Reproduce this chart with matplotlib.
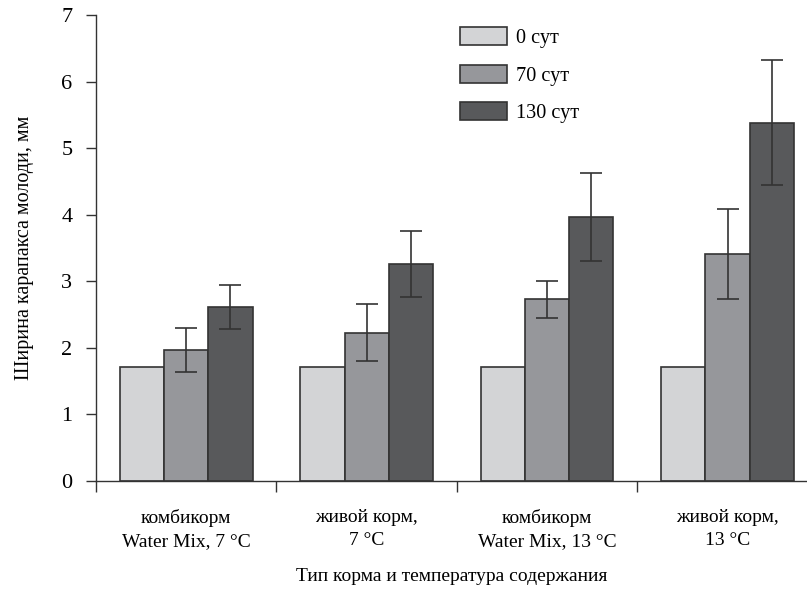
import numpy as np
import matplotlib.pyplot as plt
from matplotlib.ticker import FixedLocator

plt.rcParams['font.family'] = ['Liberation Serif', 'DejaVu Serif']

# data
groups = ['комбикорм\nWater Mix, 7 °C', 'живой корм,\n7 °C',
          'комбикорм\nWater Mix, 13 °C', 'живой корм,\n13 °C']
series = ['0 сут', '70 сут', '130 сут']
day0 = [1.71, 1.71, 1.71, 1.71]
day70 = [1.97, 2.23, 2.73, 3.41]
day130 = [2.62, 3.26, 3.96, 5.38]
err0 = [0, 0, 0, 0]
err70 = [0.33, 0.43, 0.28, 0.68]
err130 = [0.33, 0.50, 0.66, 0.94]

colors = ['#d3d4d6', '#96979b', '#58595b']
edge = '#333333'

fig = plt.figure(figsize=(8.07, 5.89), dpi=100)
ax = fig.add_axes([0.119, 0.1834, 0.881, 0.7911])

x = np.arange(len(groups)) + 0.5
w = 0.245
vals = [day0, day70, day130]
errs = [err0, err70, err130]
for i in range(3):
    pos = x + (i - 1) * w
    ax.bar(pos, vals[i], w, color=colors[i], edgecolor=edge, linewidth=1.2,
           label=series[i], zorder=2)
    if i > 0:
        ax.errorbar(pos, vals[i], yerr=errs[i], fmt='none', ecolor=edge,
                    elinewidth=1.2, capsize=8, capthick=1.2, zorder=3)

ax.set_xlim(0, 3.94)
ax.set_ylim(0, 7)
ax.spines['top'].set_visible(False)
ax.spines['right'].set_visible(False)
for s in ['left', 'bottom']:
    ax.spines[s].set_color(edge)
    ax.spines[s].set_linewidth(1.0)

ax.xaxis.set_major_locator(FixedLocator([0, 1, 2, 3]))
ax.xaxis.set_major_formatter(plt.NullFormatter())
ax.set_xticks(x, minor=True)
ax.set_xticklabels(groups, minor=True, fontsize=14, linespacing=1.5)
ax.tick_params(axis='x', which='major', length=8, width=1.0, color=edge, direction='out')
ax.tick_params(axis='x', which='minor', length=0, pad=20)
ax.set_yticks(range(8))
ax.tick_params(axis='y', length=7, width=1.0, color=edge, labelsize=16, pad=10)

ax.set_ylabel('Ширина карапакса молоди, мм', fontsize=14.5, labelpad=20)
ax.set_xlabel('Тип корма и температура содержания', fontsize=14, labelpad=13)

ax.legend(loc='upper left', bbox_to_anchor=(0.548, 0.985), bbox_transform=fig.transFigure,
          frameon=False, fontsize=14.6, handlelength=2.27, handleheight=0.99,
          labelspacing=0.82, handletextpad=0.45)

fig.savefig('out.png', dpi=100)
